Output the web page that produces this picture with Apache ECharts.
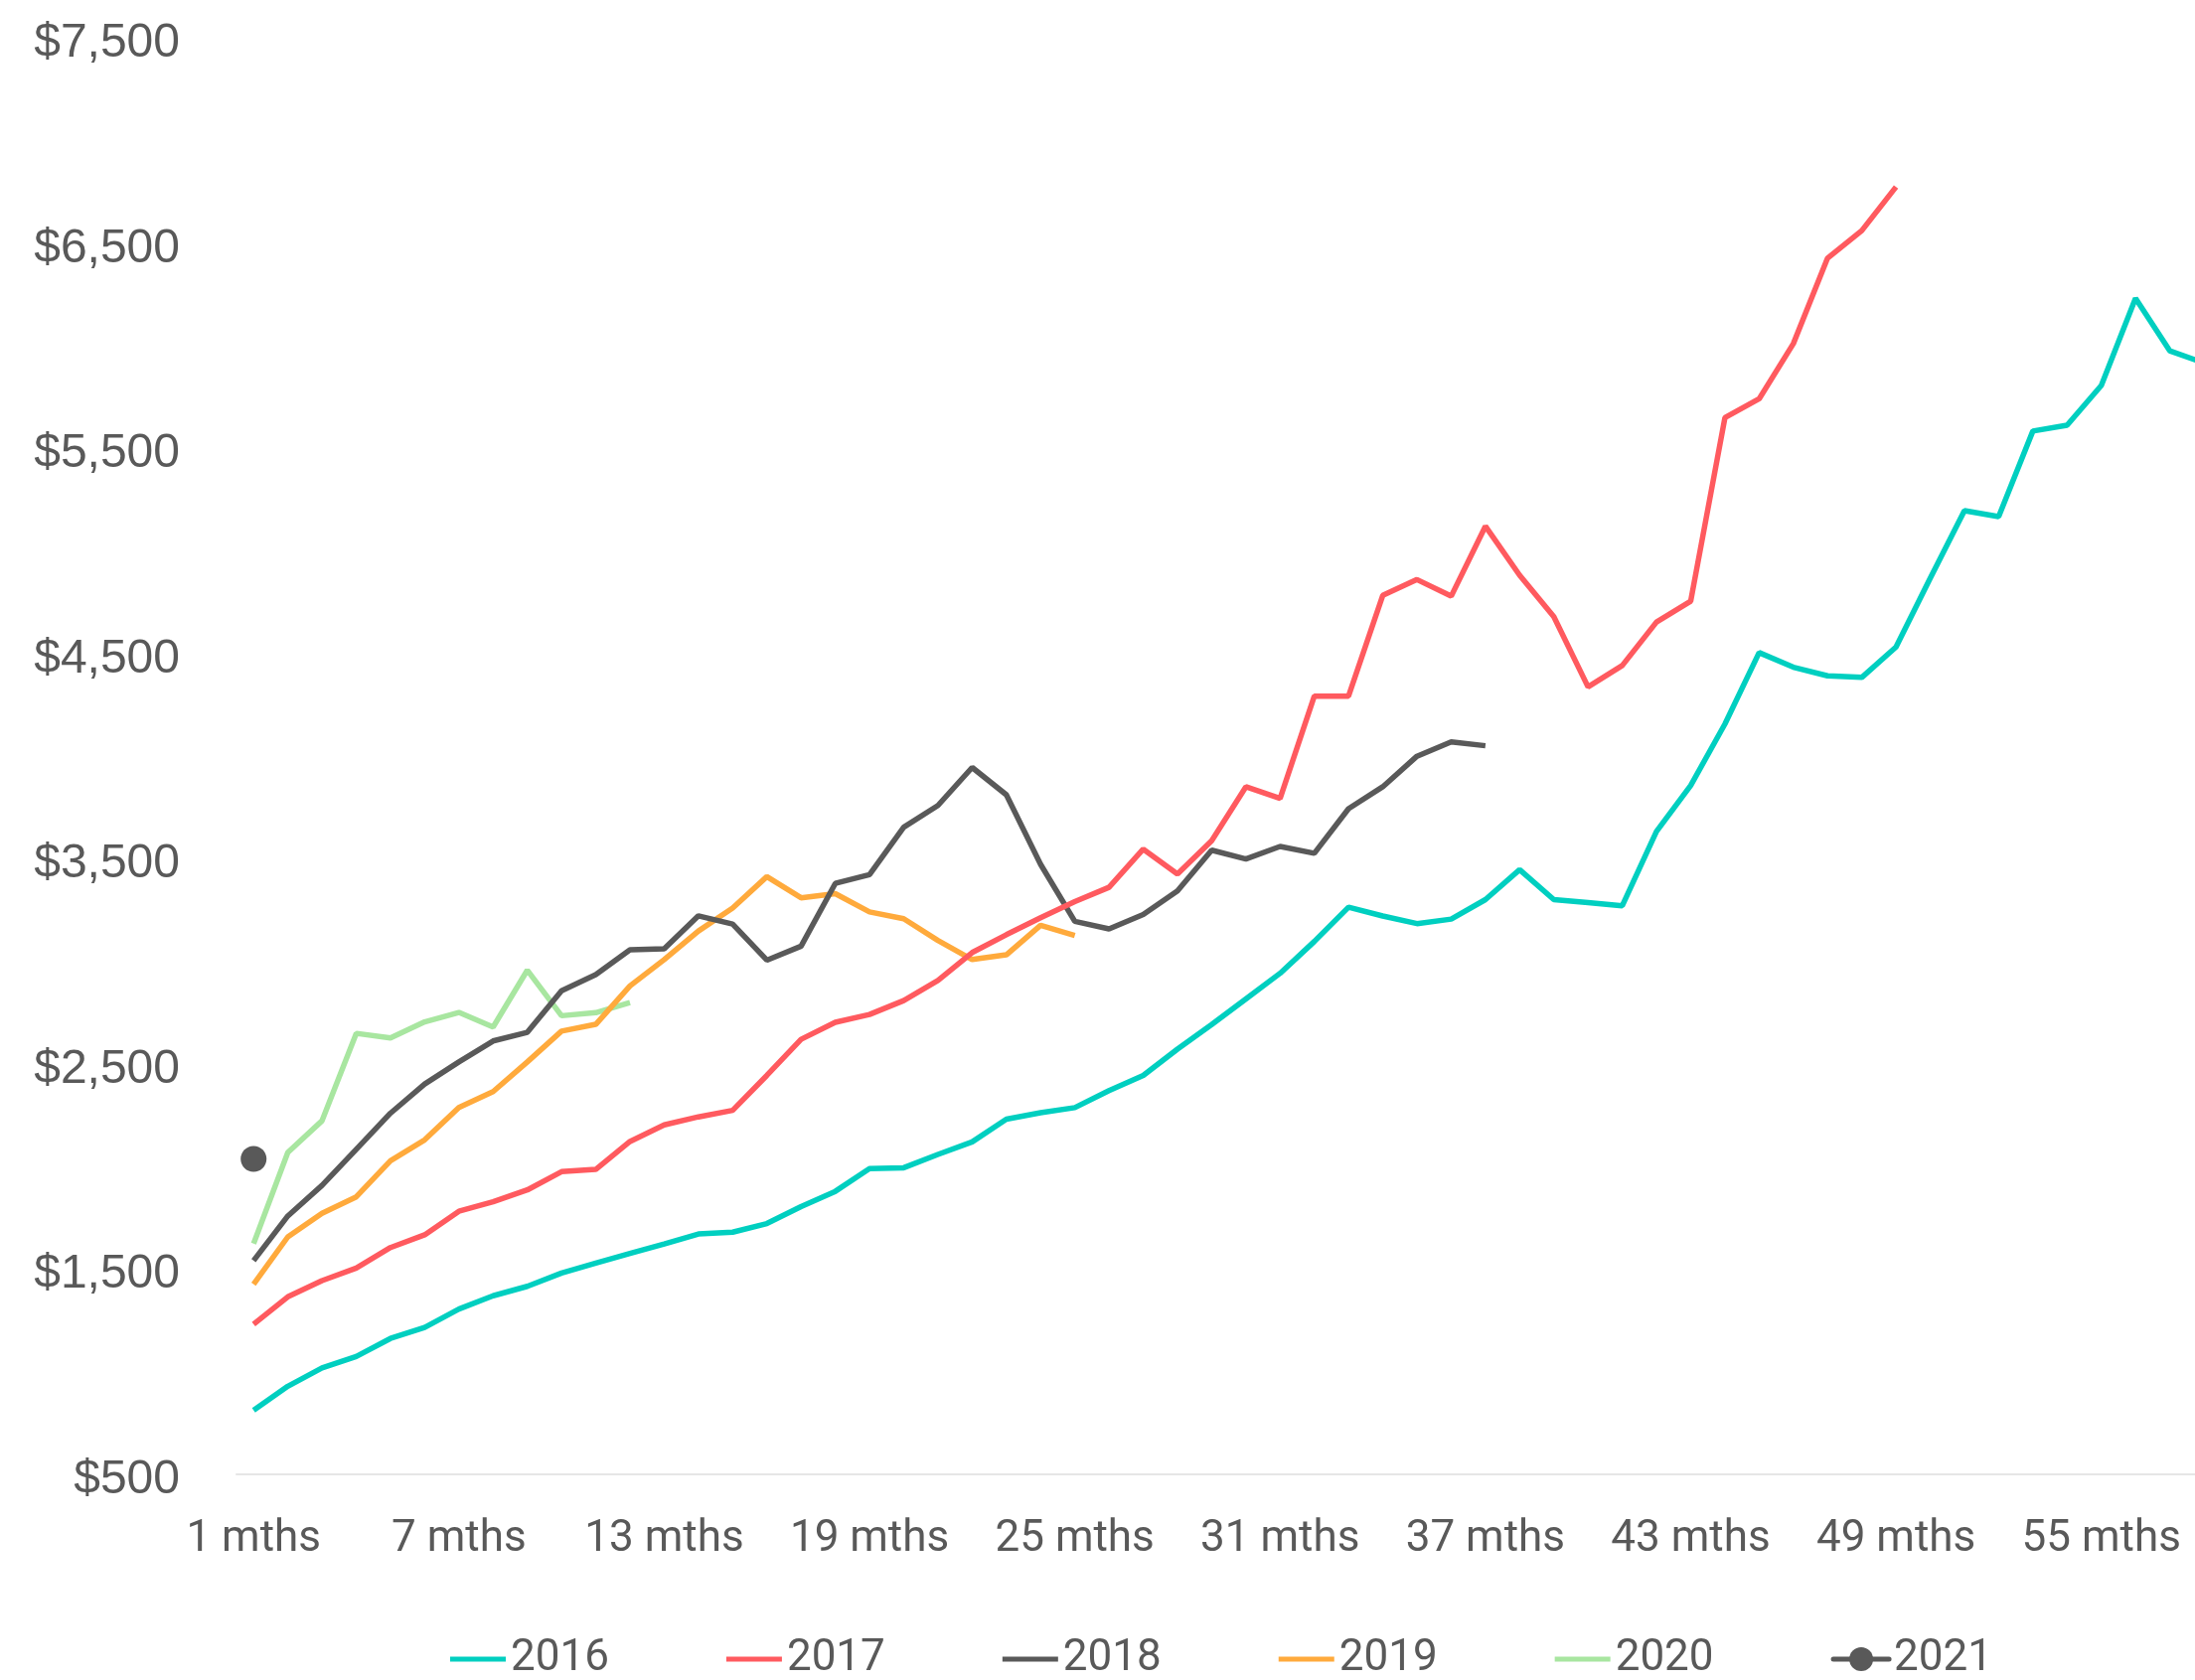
<!DOCTYPE html>
<html>
<head>
<meta charset="utf-8">
<script src="https://cdn.jsdelivr.net/npm/echarts@6/dist/echarts.min.js"></script>
<style>
html,body{margin:0;padding:0;background:#fff;}
#chart{width:2209px;height:1691px;}
</style>
</head>
<body>
<div id="chart"></div>
<script>
const monthLabels = ['1 mths','2 mths','3 mths','4 mths','5 mths','6 mths','7 mths','8 mths','9 mths','10 mths',
  '11 mths','12 mths','13 mths','14 mths','15 mths','16 mths','17 mths','18 mths','19 mths','20 mths',
  '21 mths','22 mths','23 mths','24 mths','25 mths','26 mths','27 mths','28 mths','29 mths','30 mths',
  '31 mths','32 mths','33 mths','34 mths','35 mths','36 mths','37 mths','38 mths','39 mths','40 mths',
  '41 mths','42 mths','43 mths','44 mths','45 mths','46 mths','47 mths','48 mths','49 mths','50 mths',
  '51 mths','52 mths','53 mths','54 mths','55 mths','56 mths','57 mths','58 mths'];

const seriesNames = ['2016','2017','2018','2019','2020','2021'];

const values2016 = [810,927,1016,1072,1160,1214,1303,1368,1414,1479,
  1527,1574,1620,1669,1678,1720,1803,1877,1988,1992,
  2057,2118,2229,2260,2285,2368,2442,2570,2690,2815,
  2940,3095,3262,3219,3182,3204,3299,3445,3299,3285,
  3269,3631,3855,4155,4503,4432,4390,4382,4530,4866,
  5195,5166,5583,5611,5805,6230,5974,5915];

const values2017 = [1229,1363,1442,1503,1603,1665,1780,1826,1884,1973,
  1984,2120,2201,2240,2272,2442,2618,2701,2739,2807,
  2905,3041,3128,3211,3289,3359,3545,3424,3586,3849,
  3792,4291,4291,4782,4859,4778,5119,4880,4678,4336,
  4440,4652,4754,5648,5740,6009,6426,6560,6773];

const values2018 = [1539,1757,1906,2082,2258,2400,2508,2610,2652,2855,
  2933,3054,3059,3220,3180,3004,3072,3378,3421,3652,
  3758,3943,3810,3471,3193,3156,3226,3341,3540,3497,
  3558,3525,3742,3849,3998,4068,4049];

const values2019 = [1424,1655,1770,1850,2026,2128,2286,2363,2508,2658,
  2691,2878,3007,3146,3258,3411,3308,3328,3239,3206,
  3100,3007,3030,3174,3124];

const values2020 = [1622,2067,2221,2647,2625,2703,2749,2678,2955,2733,2748,2797];

const values2021 = [2035];

const yTicks = {min: 500, max: 7500, step: 1000};

const colors = ['#00CFC0','#FF5A5F','#595959','#FFAA3C','#A8E6A0','#595959'];
const textColor = '#595959';
const fontFamily = 'Roboto, "Noto Sans", sans-serif';
const yFontFamily = '"Liberation Sans", Arial, sans-serif';
const lineIcon = 'path://M0,0M56,30M0,12.5L56,12.5L56,17.5L0,17.5Z';

const allValues = [values2016, values2017, values2018, values2019, values2020, values2021];

const series = allValues.map((vals, i) => {
  const isDot = i === 5;
  return {
    name: seriesNames[i],
    type: 'line',
    data: vals,
    symbol: isDot ? 'circle' : 'none',
    showSymbol: isDot,
    symbolSize: 26,
    itemStyle: {color: colors[i]},
    lineStyle: {color: colors[i], width: 5.5},
    z: 10 - i
  };
});

const chart = echarts.init(document.getElementById('chart'), null, {renderer: 'canvas'});
chart.setOption({
  animation: false,
  backgroundColor: '#ffffff',
  textStyle: {fontFamily: fontFamily},
  grid: {
    left: 238, top: 38, width: 34.435 * monthLabels.length, bottom: 207.5,
    containLabel: false, outerBoundsMode: 'none'
  },
  xAxis: {
    type: 'category',
    data: monthLabels,
    boundaryGap: true,
    axisLine: {show: true, lineStyle: {color: '#E6E6E6', width: 2}},
    axisTick: {show: false},
    splitLine: {show: false},
    axisLabel: {interval: 5, margin: 44, fontSize: 44, color: textColor, fontFamily: fontFamily}
  },
  yAxis: {
    type: 'value',
    min: yTicks.min,
    max: yTicks.max,
    interval: yTicks.step,
    axisLine: {show: false},
    axisTick: {show: false},
    splitLine: {show: false},
    axisLabel: {
      margin: 57,
      fontSize: 48,
      verticalAlign: 'top',
      lineHeight: 12,
      color: textColor,
      fontFamily: yFontFamily,
      formatter: v => '$' + v.toLocaleString('en-US')
    }
  },
  legend: {
    left: 448,
    top: 1643,
    itemWidth: 56,
    itemHeight: 30,
    itemGap: 118,
    textStyle: {fontSize: 44, color: textColor, fontFamily: fontFamily},
    lineStyle: {width: 5, cap: 'round'},
    data: seriesNames.map((n, i) => i < 5 ? {name: n, icon: lineIcon} : {name: n})
  },
  series: series
});
</script>
</body>
</html>
